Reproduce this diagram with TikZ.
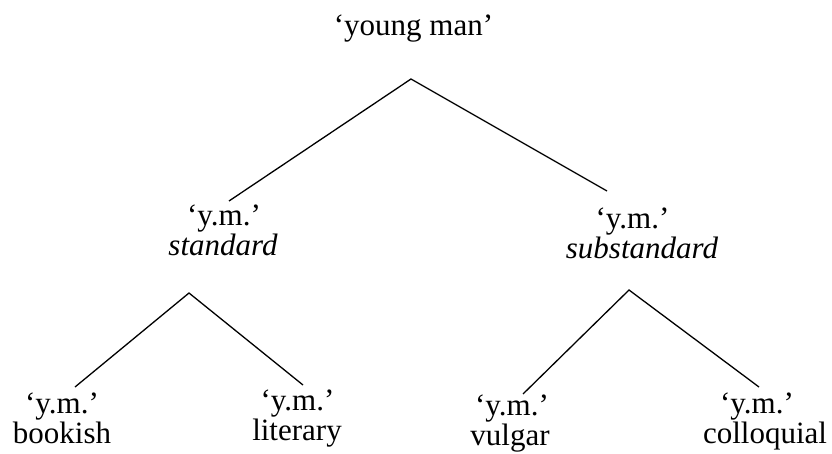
\documentclass[tikz,border=0pt]{standalone}
\usepackage{fontspec}
\setmainfont{Liberation Serif}
\begin{document}
\begin{tikzpicture}[x=1pt,y=-1pt,
  lbl/.style={anchor=base,inner sep=0pt,font=\fontsize{31}{30}\selectfont},
  branch/.style={draw=black,line width=1.3pt}]
\fill[white] (0,0) rectangle (832,453);
\useasboundingbox (0,0) rectangle (832,453);
% root
\node[lbl] (root) at (413.5,35) {‘young man’};
% second level
\node[lbl] (ymS) at (224,225) {‘y.m.’};
\node[lbl] (std) at (223,255) {\itshape standard};
\node[lbl] (ymSub) at (632.5,228) {‘y.m.’};
\node[lbl] (sub) at (642,258) {\itshape substandard};
% leaves
\node[lbl] (ymB) at (62,413) {‘y.m.’};
\node[lbl] (book) at (62,443) {bookish};
\node[lbl] (ymL) at (297.5,410) {‘y.m.’};
\node[lbl] (lit) at (297,440) {literary};
\node[lbl] (ymV) at (512,415) {‘y.m.’};
\node[lbl] (vul) at (510,445) {vulgar};
\node[lbl] (ymC) at (757,413) {‘y.m.’};
\node[lbl] (col) at (765,443) {colloquial};
% apexes
\coordinate (a0) at (411,79);
\coordinate (a1) at (189,293);
\coordinate (a2) at (629,290);
% branches
\draw[branch] ([shift={(5,-24)}]ymS.base) -- (a0) -- ([shift={(-25.5,-37)}]ymSub.base);
\draw[branch] ([shift={(13,-26)}]ymB.base) -- (a1) -- ([shift={(5.5,-25)}]ymL.base);
\draw[branch] ([shift={(11,-21)}]ymV.base) -- (a2) -- ([shift={(2,-26)}]ymC.base);
\end{tikzpicture}
\end{document}
